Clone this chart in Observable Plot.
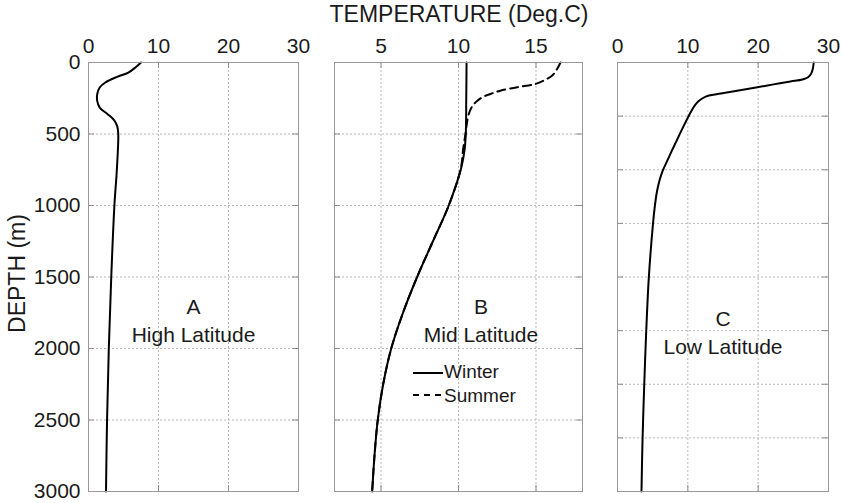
<!DOCTYPE html>
<html>
<head>
<meta charset="utf-8">
<script src="https://cdn.jsdelivr.net/npm/d3@7"></script>
<script src="https://cdn.jsdelivr.net/npm/@observablehq/plot@0.6"></script>
<style>
  body { margin: 0; background: #fff; font-family: "Liberation Sans", Arial, sans-serif; }
  #wrap { position: relative; width: 842px; height: 503px; overflow: hidden; background: #fff; }
  .panel { position: absolute; top: 0; }
  .lbl { position: absolute; color: #1a1a1a; white-space: nowrap; font-family: "Liberation Sans", Arial, sans-serif; }
</style>
</head>
<body>
<div id="wrap"></div>
<script>
// ---------- data ----------
const depthTicks = [0, 500, 1000, 1500, 2000, 2500, 3000];
const depthGridC = [0, 375, 750, 1125, 1500, 1875, 2250, 2625, 3000];
const tempTicksA = [0, 10, 20, 30];
const tempTicksB = [5, 10, 15];
const tempTicksC = [0, 10, 20, 30];

// Panel A: High latitude
const depthA = [0, 35, 70, 100, 140, 175, 220, 270, 315, 360, 400, 445, 500, 750, 1000, 1500, 2000, 2500, 3000];
const tempA  = [7.5, 6.7, 5.7, 4.1, 2.4, 1.6, 1.25, 1.25, 1.6, 2.7, 3.6, 4.1, 4.25, 4.05, 3.7, 3.25, 2.9, 2.65, 2.5];

// Panel B: Mid latitude, winter
const depthBW = [0, 250, 500, 620, 740, 1000, 1250, 1500, 1750, 2000, 2250, 2500, 2750, 3000];
const tempBW  = [10.52, 10.5, 10.47, 10.38, 10.17, 9.37, 8.35, 7.33, 6.42, 5.66, 5.14, 4.79, 4.58, 4.43];

// Panel B: Mid latitude, summer
const depthBS = [0, 44, 91, 126, 150, 173, 197, 220, 244, 279, 314, 372, 500, 606, 740, 1000, 1250, 1500, 1750, 2000, 2250, 2500, 2750, 3000];
const tempBS  = [16.58, 16.37, 16.05, 15.5, 14.97, 13.8, 12.7, 12.06, 11.53, 11.1, 10.84, 10.63, 10.45, 10.3, 10.15, 9.37, 8.35, 7.33, 6.42, 5.66, 5.14, 4.79, 4.58, 4.43];

// Panel C: Low latitude
const depthC = [0, 44, 79, 103, 119, 133, 153, 173, 197, 217, 231, 250, 270, 300, 330, 400, 480, 548, 620, 690, 754, 820, 900, 1000, 1126, 1506, 1885, 2257, 2636, 3000];
const tempC  = [27.9, 27.77, 27.53, 27.1, 26.3, 24.6, 22.2, 19.9, 17.0, 14.7, 13.0, 12.1, 11.55, 11.0, 10.6, 9.85, 9.05, 8.4, 7.7, 7.05, 6.45, 6.0, 5.62, 5.32, 5.05, 4.45, 4.08, 3.8, 3.56, 3.41];

const toRows = (depths, temps) => depths.map((d, i) => ({d, t: temps[i]}));

// ---------- drawing ----------
const wrap = document.getElementById("wrap");
const H = 503, MT = 62, MB = 12;
const plotH = H - MT - MB;
const gridStyle = {stroke: "#b8b8b8", strokeWidth: 1, strokeDasharray: "2,2"};
const tickStroke = "#8c8c8c";

function panel(cfg) {
  const plotW = cfg.width - cfg.marginLeft - cfg.marginRight;
  const marks = [
    Plot.ruleX(cfg.xTicks, {x: d => d, ...gridStyle}),
    Plot.ruleY(cfg.yGrid, {y: d => d, ...gridStyle}),
    // inward tick marks on all four sides
    Plot.tickY(cfg.yGrid, {y: d => d, insetRight: plotW - 6, stroke: tickStroke}),
    Plot.tickY(cfg.yGrid, {y: d => d, insetLeft: plotW - 6, stroke: tickStroke}),
    Plot.tickX(cfg.xTicks, {x: d => d, insetBottom: plotH - 6, stroke: tickStroke}),
    Plot.tickX(cfg.xTicks, {x: d => d, insetTop: plotH - 6, stroke: tickStroke}),
    ...cfg.series.map(s => Plot.line(s.rows, {
      x: "t", y: "d", curve: "catmull-rom", stroke: "#000", strokeWidth: 2,
      strokeDasharray: s.dash || null
    })),
    Plot.text([cfg.label], {
      x: () => cfg.labelT, y: () => cfg.labelD, text: d => d,
      textAnchor: "middle", lineAnchor: "middle", lineHeight: 1.33,
      fontSize: 21, fill: "#1a1a1a"
    }),
    Plot.frame({stroke: "#999", strokeWidth: 1})
  ];
  const svg = Plot.plot({
    width: cfg.width, height: H,
    marginTop: MT, marginBottom: MB, marginLeft: cfg.marginLeft, marginRight: cfg.marginRight,
    style: {fontSize: "21px", fontFamily: "Liberation Sans, Arial, sans-serif", color: "#1a1a1a", background: "transparent", overflow: "visible"},
    x: {domain: cfg.xDomain, axis: "top", ticks: cfg.xTicks, tickSize: 0, tickPadding: 10, label: null, tickFormat: d3.format("d")},
    y: {domain: [0, 3000], reverse: true, axis: cfg.showY ? "left" : null, ticks: depthTicks, tickSize: 0, tickPadding: 8, label: null, tickFormat: d3.format("d")},
    marks
  });
  svg.classList.add("panel");
  svg.style.left = cfg.left + "px";
  wrap.appendChild(svg);
}

panel({
  left: 0, width: 316, marginLeft: 88, marginRight: 18,
  xDomain: [0, 30], xTicks: tempTicksA, yGrid: depthTicks, showY: true,
  series: [{rows: toRows(depthA, tempA)}],
  label: "A\nHigh Latitude", labelT: 15, labelD: 1794
});
panel({
  left: 316, width: 284, marginLeft: 18, marginRight: 18,
  xDomain: [2, 18], xTicks: tempTicksB, yGrid: depthTicks, showY: false,
  series: [{rows: toRows(depthBW, tempBW)}, {rows: toRows(depthBS, tempBS), dash: "8,5"}],
  label: "B\nMid Latitude", labelT: 11.45, labelD: 1794
});
panel({
  left: 600, width: 242, marginLeft: 17, marginRight: 14,
  xDomain: [0, 30], xTicks: tempTicksC, yGrid: depthGridC, showY: false,
  series: [{rows: toRows(depthC, tempC)}],
  label: "C\nLow Latitude", labelT: 15, labelD: 1875
});

// ---------- titles & legend (HTML text) ----------
function addLabel(text, css) {
  const el = document.createElement("div");
  el.className = "lbl";
  el.textContent = text;
  Object.assign(el.style, css);
  wrap.appendChild(el);
  return el;
}
addLabel("TEMPERATURE (Deg.C)", {left: "259px", width: "400px", textAlign: "center", top: "3px", fontSize: "23px", lineHeight: "23px"});
addLabel("DEPTH (m)", {left: "-83.5px", width: "200px", textAlign: "center", top: "262px", fontSize: "23px", lineHeight: "23px", transform: "rotate(-90deg)"});

function legendRow(text, dash, top, lineY) {
  const ns = "http://www.w3.org/2000/svg";
  const s = document.createElementNS(ns, "svg");
  s.setAttribute("width", "32"); s.setAttribute("height", "4");
  s.style.position = "absolute"; s.style.left = "412px"; s.style.top = (lineY - 2) + "px";
  const l = document.createElementNS(ns, "line");
  l.setAttribute("x1", "1"); l.setAttribute("x2", "31"); l.setAttribute("y1", "2"); l.setAttribute("y2", "2");
  l.setAttribute("stroke", "#000"); l.setAttribute("stroke-width", "2");
  if (dash) l.setAttribute("stroke-dasharray", dash);
  s.appendChild(l);
  wrap.appendChild(s);
  addLabel(text, {left: "444px", top: top + "px", fontSize: "19px", lineHeight: "19px"});
}
legendRow("Winter", null, 362, 373);
legendRow("Summer", "6,5", 386, 395);
</script>
</body>
</html>
